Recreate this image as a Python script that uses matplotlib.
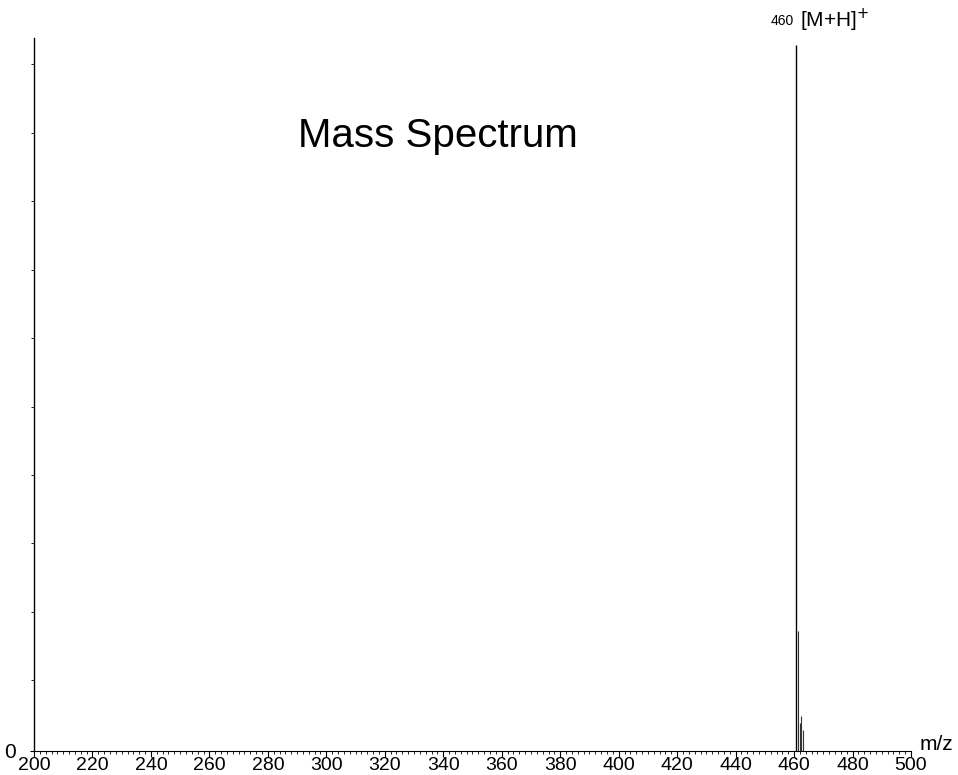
import matplotlib
matplotlib.use("Agg")
import matplotlib.pyplot as plt
import numpy as np
from matplotlib.ticker import MultipleLocator, FixedLocator

# Data
mz = [460.5, 461.5, 462.0, 462.5, 463.0]
intensity = [100.0, 17.0, 4.0, 5.0, 3.0]
x_ticks = list(range(200, 501, 20))
title = "Mass Spectrum"
peak_label = "460"
ion_label = "[M+H]$^{+}$"

W, H = 958, 775
fig = plt.figure(figsize=(W / 100, H / 100), dpi=100)
fam = ["Liberation Sans Narrow", "Liberation Sans", "DejaVu Sans"]
plt.rcParams["font.family"] = fam

left, right = 34 / W, 911 / W
bottom, top = 1 - 751 / H, 1 - 38 / H
ax = fig.add_axes([left, bottom, right - left, top - bottom])

ax.vlines(mz[:1], 0, intensity[:1], colors="black", linewidth=1.0)
ax.vlines(mz[1:], 0, intensity[1:], colors="#333333", linewidth=0.8)

ax.set_xlim(200, 500)
ax.set_ylim(0, 101)

for s in ["top", "right"]:
    ax.spines[s].set_visible(False)
ax.spines["left"].set_linewidth(1.0)
ax.spines["bottom"].set_linewidth(0.8)
ax.spines["bottom"].set_linestyle((0, (2, 1)))

ax.set_xticks(x_ticks)
ax.set_xticklabels([str(t) for t in x_ticks], fontsize=14)
ax.xaxis.set_minor_locator(MultipleLocator(2))
ax.tick_params(axis="x", which="major", length=4, width=0.8, pad=0, direction="out")
ax.tick_params(axis="x", which="minor", length=2, width=0.6, direction="out")

ax.set_yticks([0])
ax.set_yticklabels(["0"], fontsize=15)
ax.yaxis.set_minor_locator(FixedLocator(np.arange(10, 101, 9.7)))
ax.tick_params(axis="y", which="major", length=3, width=0.8, pad=10)
ax.tick_params(axis="y", which="minor", length=2, width=0.6)

ax.text(1.01, -0.004, "m/z", transform=ax.transAxes, fontsize=15, ha="left", va="bottom")

ax.text(0.460, 0.862, title, transform=ax.transAxes, fontsize=29, ha="center", va="center")

ax.annotate(peak_label, xy=(mz[0], intensity[0]), xytext=(-1, 17), textcoords="offset points",
            ha="right", va="center", fontsize=10)
ax.annotate(ion_label, xy=(mz[0], intensity[0]), xytext=(3, 18), textcoords="offset points",
            ha="left", va="center", fontsize=15)

fig.savefig("out.png", dpi=100, facecolor="white")
